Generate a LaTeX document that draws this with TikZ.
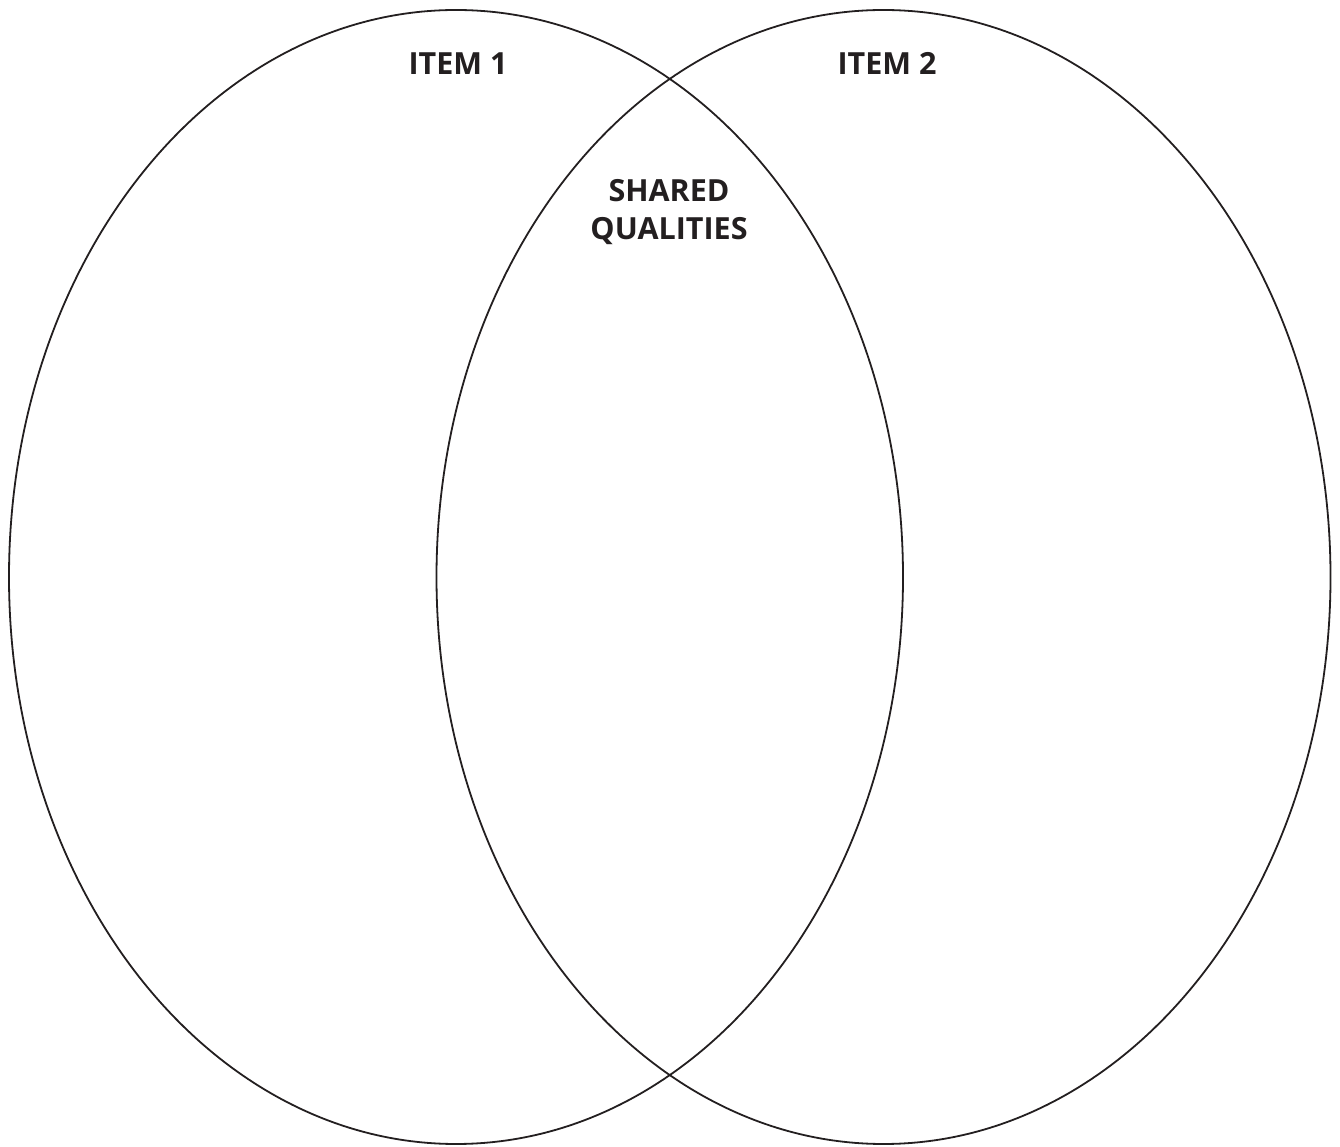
\documentclass[tikz,border=0pt]{standalone}
\usepackage{fontspec}
\setmainfont{Open Sans}
\usetikzlibrary{shapes.geometric, positioning}
\definecolor{inkline}{HTML}{231F20}

\begin{document}
\begin{tikzpicture}[x=1pt, y=1pt,
    circ/.style={draw=inkline, line width=1.8pt, ellipse, inner sep=0pt,
      minimum width=894pt, minimum height=1134pt},
    title/.style={font=\fontsize{30.5}{38}\selectfont\bfseries, text=inkline,
      inner sep=0pt, align=center}]
    \useasboundingbox (0,0) rectangle (1340,1146);
    \node[circ] (L) at (456,569) {};
    \node[circ] (R) at (883.5,569) {};

    \node[title, anchor=base] (T1) at (458,1071) {ITEM 1};
    \node[title, anchor=base] (T2) at (887,1071) {ITEM 2};
    \node[title, anchor=north] (S) at (669,967) {SHARED\\QUALITIES};
  \end{tikzpicture}
\end{document}
